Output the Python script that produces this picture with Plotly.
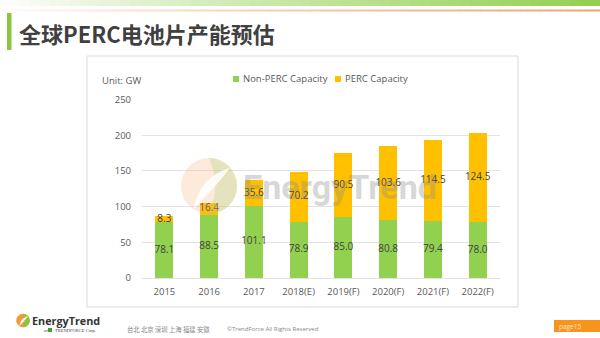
import plotly.graph_objects as go

# ---------------- data ----------------
categories = ["2015", "2016", "2017", "2018(E)", "2019(F)", "2020(F)", "2021(F)", "2022(F)"]
non_perc = [78.1, 88.5, 101.1, 78.9, 85.0, 80.8, 79.4, 78.0]
perc = [8.3, 16.4, 35.6, 70.2, 90.5, 103.6, 114.5, 124.5]
y_ticks = [0, 50, 100, 150, 200, 250]

GREEN = "#92D050"
YELLOW = "#FFC000"
W, H = 600, 338


def px(x):
    return x / W


def py(y):
    return 1 - y / H


def P(x, y):
    return f"{px(x):.5f},{py(y):.5f}"


fig = go.Figure()

fig.add_trace(go.Bar(x=categories, y=non_perc, name="Non-PERC Capacity",
                     marker=dict(color=GREEN, line=dict(width=0)), showlegend=False,
                     hoverinfo="x+y"))
fig.add_trace(go.Bar(x=categories, y=perc, name="PERC Capacity",
                     marker=dict(color=YELLOW, line=dict(width=0)), showlegend=False,
                     hoverinfo="x+y"))

# data labels at the middle of each segment
fig.add_trace(go.Scatter(x=categories, y=[v / 2 for v in non_perc], mode="text",
                         text=[f"{v:.1f}" for v in non_perc], showlegend=False,
                         textfont=dict(family="Open Sans", size=10, color="#404040"),
                         hoverinfo="skip", cliponaxis=False))
fig.add_trace(go.Scatter(x=categories, y=[a + b / 2 for a, b in zip(non_perc, perc)], mode="text",
                         text=[f"{v:.1f}" for v in perc], showlegend=False,
                         textfont=dict(family="Open Sans", size=10, color="#404040"),
                         hoverinfo="skip", cliponaxis=False))

shapes = []
annotations = []

# top gradient band (green) and orange line
N = 60
for i in range(N):
    t = (i + 0.5) / N
    tg = t ** 0.9
    r = int(255 + (146 - 255) * tg)
    g = int(255 + (208 - 255) * tg)
    b = int(255 + (80 - 255) * tg)
    shapes.append(dict(type="rect", xref="paper", yref="paper",
                       x0=px(W * i / N), x1=px(W * (i + 1) / N + 0.5),
                       y0=py(6), y1=py(0), fillcolor=f"rgb({r},{g},{b})",
                       line=dict(width=0), layer="below"))
    to = t ** 0.8
    r2 = int(255 + (240 - 255) * to)
    g2 = int(255 + (165 - 255) * to)
    b2 = int(255 + (110 - 255) * to)
    shapes.append(dict(type="rect", xref="paper", yref="paper",
                       x0=px(W * i / N), x1=px(W * (i + 1) / N + 0.5),
                       y0=py(11.5), y1=py(9.5), fillcolor=f"rgb({r2},{g2},{b2})",
                       line=dict(width=0), layer="below"))

# title accent bar
shapes.append(dict(type="rect", xref="paper", yref="paper", x0=px(7), x1=px(11.5),
                   y0=py(50), y1=py(13), fillcolor="#8CC63F", line=dict(width=0)))

# chart frame
shapes.append(dict(type="rect", xref="paper", yref="paper", x0=px(87), x1=px(518),
                   y0=py(307), y1=py(56), fillcolor="rgba(0,0,0,0)",
                   line=dict(color="#D9D9D9", width=1), layer="below"))

# legend squares
shapes.append(dict(type="rect", xref="paper", yref="paper", x0=px(233), x1=px(239),
                   y0=py(82), y1=py(76), fillcolor=GREEN, line=dict(width=0)))
shapes.append(dict(type="rect", xref="paper", yref="paper", x0=px(335), x1=px(341),
                   y0=py(82), y1=py(76), fillcolor=YELLOW, line=dict(width=0)))


def logo(cx, cy, r, orange, green, leaf, layer="above"):
    k = 0.5523 * r
    out = [dict(type="circle", xref="paper", yref="paper", x0=px(cx - r), x1=px(cx + r),
                y0=py(cy + r), y1=py(cy - r), fillcolor=orange, line=dict(width=0), layer=layer)]
    path = (f"M{P(cx, cy - r)} C{P(cx + k, cy - r)} {P(cx + r, cy - k)} {P(cx + r, cy)} "
            f"C{P(cx + r, cy + k)} {P(cx + k, cy + r)} {P(cx, cy + r)} "
            f"C{P(cx + 0.3 * r, cy + 0.3 * r)} {P(cx + 0.3 * r, cy - 0.3 * r)} {P(cx, cy - r)} Z")
    out.append(dict(type="path", xref="paper", yref="paper", path=path,
                    fillcolor=green, line=dict(width=0), layer=layer))
    lp = (f"M{P(cx - 0.55 * r, cy + 0.8 * r)} Q{P(cx - 0.35 * r, cy - 0.3 * r)} {P(cx + 0.75 * r, cy - 0.65 * r)} "
          f"Q{P(cx + 0.2 * r, cy + 0.1 * r)} {P(cx - 0.55 * r, cy + 0.8 * r)} Z")
    out.append(dict(type="path", xref="paper", yref="paper", path=lp,
                    fillcolor=leaf, line=dict(width=0), layer=layer))
    return out


# watermark logo
shapes += logo(209, 186, 28, "rgba(245,170,110,0.25)", "rgba(170,210,110,0.28)",
               "rgba(255,255,255,0.85)")
# footer logo
shapes += logo(23, 320.5, 6.8, "#F39A3A", "#8CC63F", "#FFFFFF")
# tiny TrendForce mark
shapes.append(dict(type="rect", xref="paper", yref="paper", x0=px(48), x1=px(52),
                   y0=py(332), y1=py(328), fillcolor="#4E9A3A", line=dict(width=0)))

# page tag
shapes.append(dict(type="rect", xref="paper", yref="paper", x0=px(554), x1=px(600),
                   y0=py(332), y1=py(320), fillcolor="#F7941D", line=dict(width=0)))


def txt(text, x, y, size, color, family="Open Sans", weight="normal", anchor="left"):
    annotations.append(dict(text=text, x=px(x), y=py(y), xref="paper", yref="paper",
                            xanchor=anchor, yanchor="middle", showarrow=False,
                            font=dict(family=family, size=size, color=color, weight=weight)))


txt("全球PERC电池片产能预估", 17, 33, 22, "#404040", family="Noto Sans CJK SC", weight="bold")
txt("Unit: GW", 100, 80, 9.5, "#595959")
txt("Non-PERC Capacity", 240.5, 79, 9.5, "#595959")
txt("PERC Capacity", 342.5, 79, 9.5, "#595959")
txt("EnergyTrend", 241, 187, 34, "rgba(140,140,140,0.35)", family="Roboto", weight="bold")
txt("EnergyTrend", 30, 320, 10.8, "#333333", weight="bold")
txt("of", 42, 330, 4.5, "#444444", family="Liberation Serif")
txt("TRENDFORCE Corp.", 53, 330, 4.5, "#444444", family="Liberation Serif")
txt("台北 北京 深圳 上海 福建 安徽", 125, 329, 6.3, "#888888", family="Noto Sans CJK SC")
txt("©TrendForce All Rights Reserved", 225, 329, 6, "#888888")
txt("page15", 557, 326, 6.5, "#FFE6CC")

fig.update_layout(
    width=W, height=H,
    margin=dict(l=0, r=0, t=0, b=0, autoexpand=False),
    paper_bgcolor="white", plot_bgcolor="white",
    barmode="stack", bargap=0.6,
    showlegend=False,
    shapes=shapes, annotations=annotations,
    xaxis=dict(domain=[px(142), px(500)], showgrid=False, showline=False, ticks="",
               tickfont=dict(family="Open Sans", size=9.5, color="#595959"),
               ticklabelstandoff=6, automargin=False, fixedrange=True),
    yaxis=dict(domain=[py(278), py(99.5)], range=[0, 250], tickvals=y_ticks,
               showgrid=True, gridcolor="#E3E3E3", gridwidth=1,
               zeroline=True, zerolinecolor="#E3E3E3", zerolinewidth=1,
               showline=False, ticks="",
               tickfont=dict(family="Open Sans", size=9.5, color="#595959"),
               ticklabelstandoff=10, automargin=False, fixedrange=True),
)

fig.write_html("out.html")
